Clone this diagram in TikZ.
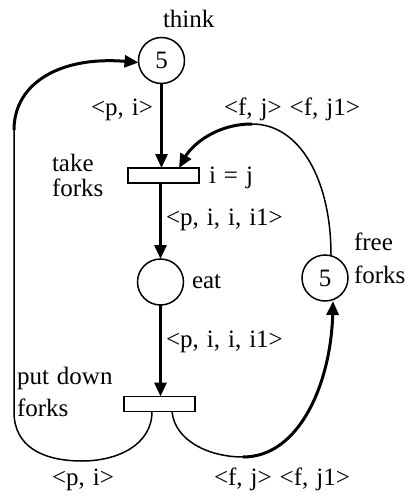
\documentclass[tikz,border=0pt]{standalone}
\usepackage{fontspec}
\setmainfont{Liberation Serif}
\usetikzlibrary{arrows.meta}
\newcommand\netfont{\fontsize{25}{22}\selectfont}
\newcommand\lblfont{\fontsize{25}{22}\selectfont\setlength{\spaceskip}{8pt plus 2pt}}
\begin{document}
\begin{tikzpicture}[x=1pt,y=-1pt,
  every node/.style={inner sep=0pt, outer sep=0pt},
  lbl/.style={font=\lblfont, anchor=base west},
  place/.style={circle, draw, line width=1.5pt, minimum size=46pt, font=\netfont},
  trans/.style={rectangle, draw, line width=1.5pt, minimum width=71pt, minimum height=15pt},
  thinarc/.style={line width=1.5pt},
  tipped/.style={line width=3pt, -{Triangle[length=14pt,width=12pt]}}
]
\useasboundingbox (0,0) rectangle (409,495);

% places
\node[place] (think) at (161.5,60.5) {5};
\node[place] (eat)   at (160.5,282) {};
\node[place] (free)  at (325,278) {5};

% transitions
\node[trans] (take) at (163.5,175.5) {};
\node[trans] (put)  at (159.5,404) {};

% straight arcs through the middle
\draw[tipped] (think.south) -- (think.south |- take.north);
\draw[tipped] (take.south -| eat.north) -- (eat.north);
\draw[tipped] (eat.south) -- (eat.south |- put.north);

% return of the philosopher: put down forks -> think
\coordinate (lbot) at (82,461);
\coordinate (lside) at (14,412);
\coordinate (ltop) at (14,130);
\draw[thinarc] ([xshift=-7.5pt]put.south) .. controls +(0,33) and (118,461) .. (lbot)
  .. controls (42,461) and (14,446) .. (lside) -- (ltop);
\draw[tipped] (ltop) .. controls (14,82) and (62,56) .. ([yshift=-2pt]think.west);

% forks returned: put down forks -> free forks
\coordinate (rbot) at (243,457);
\draw[thinarc] ([xshift=12.5pt]put.south) .. controls +(3,30) and (210,457) .. (rbot);
\draw[tipped] (rbot) .. controls (300,457) and (331,382) .. ([xshift=8pt]free.south);

% forks taken: free forks -> take forks
\coordinate (rtop) at (252,124);
\draw[thinarc] ([xshift=6pt]free.north) .. controls +(0,-75) and (300,124) .. (rtop);
\draw[tipped] (rtop) .. controls (216,124) and (192,145) .. ([xshift=15.5pt]take.north);

% labels (multi-line nodes sit on the baseline of their last line)
\node[lbl] at (163,28) {think};
\node[lbl] at (91,115) {<p, i>};
\node[lbl, align=left] at (52,196) {take\\[3pt]forks};
\node[lbl] at (209,183) {i = j};
\node[lbl] at (166,225) {<p, i, i, i1>};
\node[lbl] at (192,288) {eat};
\node[lbl] at (166,347) {<p, i, i, i1>};
\node[lbl, align=left] at (17,416) {put down\\[8pt]forks};
\node[lbl] at (52,485) {<p, i>};
\node[lbl] at (214,485) {<f, j> <f, j1>};
\node[lbl] at (224,115) {<f, j> <f, j1>};
\node[lbl, align=left] at (354,283) {free\\[11pt]forks};
\end{tikzpicture}
\end{document}
